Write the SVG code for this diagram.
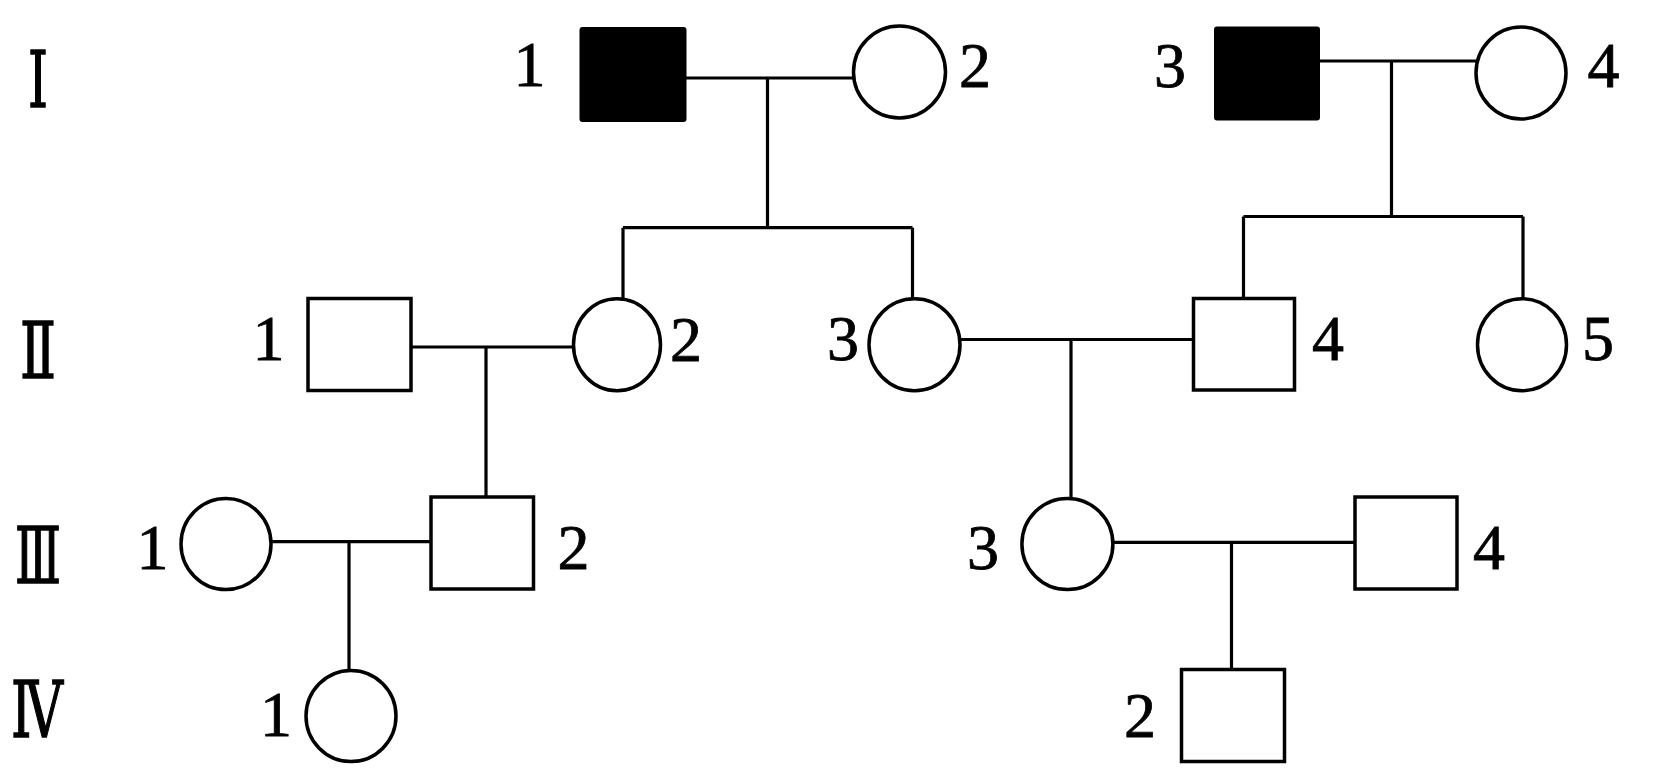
<svg xmlns="http://www.w3.org/2000/svg" width="1661" height="777" viewBox="0 0 1661 777">
<style>
.m{fill:#fff;stroke:#000;stroke-width:3.5}
.a{fill:#000;stroke:#000;stroke-width:2}
.f{fill:#fff;stroke:#000;stroke-width:3.5}
.l{fill:none;stroke:#000;stroke-width:3.2}
.n{font-family:"Liberation Serif","DejaVu Serif",serif;font-size:64px;fill:#000;stroke:#000;stroke-width:0.8;text-anchor:middle}
.g{font-family:"Liberation Serif","DejaVu Serif","Noto Sans CJK SC",serif;font-size:78px;fill:#000;stroke:#000;stroke-width:1.5;text-anchor:middle}
</style>
<rect width="1661" height="777" fill="#fff"/>
<g id="generations">
<text class="g" x="38" y="107" textLength="20" lengthAdjust="spacingAndGlyphs">Ⅰ</text>
<text class="g" x="38" y="378" textLength="36" lengthAdjust="spacingAndGlyphs">Ⅱ</text>
<text class="g" x="38" y="583" textLength="46" lengthAdjust="spacingAndGlyphs">Ⅲ</text>
<text class="g" x="37" y="737" textLength="52" lengthAdjust="spacingAndGlyphs">Ⅳ</text>
</g>
<g id="connectors">
<path class="l" d="M686 78H853M767.5 78V227.7M623 227.7H912.5M623 227.7V298.5M912.5 227.7V298.5"/>
<path class="l" d="M1319 61H1476M1391.5 61V216.5M1243.5 216.5H1523M1243.5 216.5V298M1523 216.5V298.5"/>
<path class="l" d="M411.5 347H573M486 347V497"/>
<path class="l" d="M960 339.5H1193.5M1071 339.5V498.5"/>
<path class="l" d="M271 541.7H431M349 541.7V670.5"/>
<path class="l" d="M1113 542.3H1355M1231.5 542.3V669.5"/>
</g>
<g id="I-1"><rect class="a" x="580.5" y="28" width="105" height="93" rx="2"/><text class="n" x="529.5" y="86">1</text></g>
<g id="I-2"><ellipse class="f" cx="899.5" cy="72" rx="46" ry="46"/><text class="n" x="975" y="87">2</text></g>
<g id="I-3"><rect class="a" x="1215" y="27.5" width="104" height="92" rx="2"/><text class="n" x="1170" y="86.5">3</text></g>
<g id="I-4"><ellipse class="f" cx="1521" cy="73" rx="45" ry="46"/><text class="n" x="1603.5" y="86.5">4</text></g>
<g id="II-1"><rect class="m" x="308" y="298.5" width="103" height="92"/><text class="n" x="268.5" y="360">1</text></g>
<g id="II-2"><ellipse class="f" cx="617" cy="344.7" rx="43.5" ry="46"/><text class="n" x="686" y="361">2</text></g>
<g id="II-3"><ellipse class="f" cx="914.5" cy="344.7" rx="45.5" ry="46"/><text class="n" x="843" y="360">3</text></g>
<g id="II-4"><rect class="m" x="1193.5" y="298.5" width="101" height="91.5"/><text class="n" x="1328" y="360">4</text></g>
<g id="II-5"><ellipse class="f" cx="1522" cy="344.7" rx="44.5" ry="46"/><text class="n" x="1598" y="360">5</text></g>
<g id="III-1"><ellipse class="f" cx="226" cy="544" rx="45" ry="45.5"/><text class="n" x="152.5" y="569">1</text></g>
<g id="III-2"><rect class="m" x="431" y="497" width="102.5" height="92"/><text class="n" x="573.5" y="569">2</text></g>
<g id="III-3"><ellipse class="f" cx="1067.4" cy="544" rx="45.5" ry="45.5"/><text class="n" x="983" y="569">3</text></g>
<g id="III-4"><rect class="m" x="1355" y="497" width="102" height="92"/><text class="n" x="1489" y="569">4</text></g>
<g id="IV-1"><ellipse class="f" cx="351" cy="716" rx="45" ry="45.5"/><text class="n" x="276" y="736">1</text></g>
<g id="IV-2"><rect class="m" x="1181.5" y="669.5" width="103" height="92"/><text class="n" x="1140" y="736.5">2</text></g>
</svg>
